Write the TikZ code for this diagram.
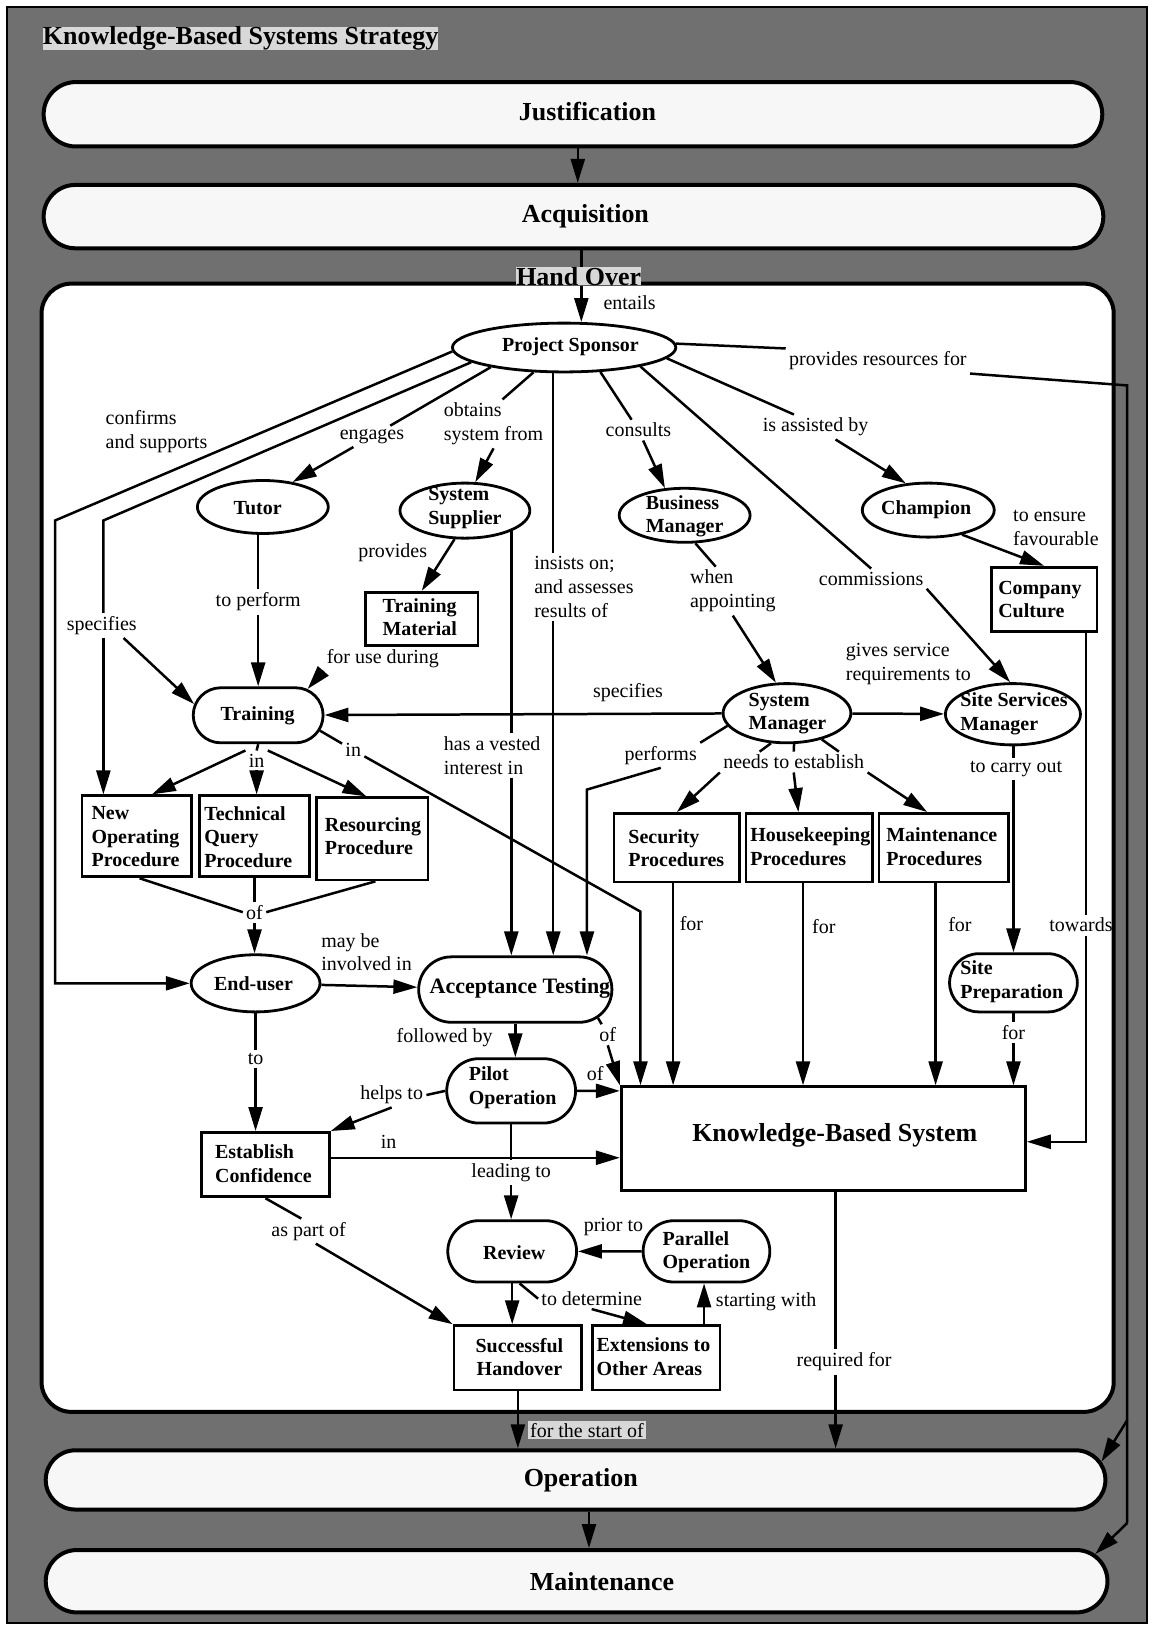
\documentclass[tikz,border=0pt]{standalone}
\usepackage{fontspec}
\setmainfont{Liberation Serif}
\usetikzlibrary{arrows.meta,shapes.geometric,shapes.misc}
\definecolor{framegray}{RGB}{112,112,112}
\definecolor{tabgray}{RGB}{216,216,216}
\definecolor{bandfill}{RGB}{247,247,247}
\begin{document}
\begin{tikzpicture}[x=0.52pt,y=-0.52pt,
  ell/.style 2 args={ellipse, draw, line width=1.4pt, fill=white, inner sep=0pt,
    minimum width=#1*0.52pt, minimum height=#2*0.52pt},
  box/.style 2 args={rectangle, draw, line width=1.4pt, fill=white, inner sep=0pt,
    minimum width=#1*0.52pt, minimum height=#2*0.52pt},
  pill/.style 2 args={rounded rectangle, draw, line width=1.4pt, fill=white, inner sep=0pt,
    minimum width=#1*0.52pt, minimum height=#2*0.52pt},
  band/.style 2 args={rounded rectangle, draw, line width=2pt, fill=bandfill, inner sep=0pt,
    minimum width=#1*0.52pt, minimum height=#2*0.52pt},
  ntext/.style={font=\fontsize{10}{11.7}\selectfont\bfseries, align=left, inner sep=0pt},
  btext/.style={font=\fontsize{13}{15}\selectfont\bfseries, inner sep=0pt},
  lbl/.style={font=\fontsize{10}{12}\selectfont, align=left, inner sep=1.5pt},
  tab/.style={fill=tabgray, inner sep=1pt},
  link/.style={line width=1.25pt},
  arr/.style={line width=1.25pt, -{Triangle[length=12pt,width=7pt]}},
]
\path[use as bounding box] (0,0) rectangle (1112,1568);

% frame
\fill[framegray] (7,7) rectangle (1104,1562);
\draw[line width=0.8pt] (7,7) rectangle (1104,1562);
\node[tab, btext, anchor=west] (title) at (41,37) {Knowledge-Based Systems Strategy};

% phases
\node[band={1019}{62}] (just) at (551.5,110) {};
\node[btext] (just-t) at (565.5,107) {Justification};
\node[band={1020}{61}] (acq) at (552,208.5) {};
\node[btext] (acq-t) at (563.5,208) {Acquisition};
\node[draw, line width=2pt, fill=white, rounded corners=15pt, inner sep=0pt,
  minimum width=1032*0.52pt, minimum height=1086*0.52pt] (ho) at (556,816) {};
\node[band={1020}{57}] (oper) at (554,1424.5) {};
\node[btext] (oper-t) at (559,1424.5) {Operation};
\node[band={1022}{60}] (maint) at (555,1522) {};
\node[btext] (maint-t) at (579.5,1522.5) {Maintenance};
\node[tab, btext] (handover) at (557,266) {Hand Over};

% concepts
\node[ell={215}{47}] (ps) at (543,334.5) {};
\node[ntext] (ps-t) at (549,334) {Project Sponsor};
\node[ell={126}{51}] (tutor) at (253,488) {};
\node[ntext] (tutor-t) at (248,489) {Tutor};
\node[ell={125}{53}] (sup) at (447.5,491.5) {};
\node[ntext] (sup-t) at (447.5,489) {System\\Supplier};
\node[box={108}{51}] (tmat) at (406,595.5) {};
\node[ntext, align=center] (tmat-t) at (404,594) {Training\\Material};
\node[ell={126}{52}] (bman) at (659,496) {};
\node[ntext] (bman-t) at (659,497) {Business\\Manager};
\node[ell={127}{52}] (champ) at (893.5,491) {};
\node[ntext] (champ-t) at (891.5,491) {Champion};
\node[box={102}{62}] (ccult) at (1005,577) {};
\node[ntext] (ccult-t) at (1001,577) {Company\\Culture};
\node[pill={125}{53}] (train) at (248.5,688.5) {};
\node[ntext] (train-t) at (248,688.5) {Training};
\node[ell={123}{57}] (sman) at (757.5,686.5) {};
\node[ntext] (sman-t) at (758,687) {System\\Manager};
\node[ell={130}{59}] (ssm) at (975,687.5) {};
\node[ntext] (ssm-t) at (976,687) {Site Services\\Manager};
\node[box={105}{78}] (nop) at (131.5,805) {};
\node[ntext] (nop-t) at (130.5,805.5) {New\\Operating\\Procedure};
\node[box={106}{78}] (tqp) at (245,805) {};
\node[ntext] (tqp-t) at (239,805.5) {Technical\\Query\\Procedure};
\node[box={107}{79}] (rproc) at (358.5,807.5) {};
\node[ntext] (rproc-t) at (359,805) {Resourcing\\Procedure};
\node[box={121}{66}] (secp) at (651.5,816) {};
\node[ntext] (secp-t) at (651,816.5) {Security\\Procedures};
\node[box={122}{66}] (hkp) at (779,816) {};
\node[ntext] (hkp-t) at (780,815) {Housekeeping\\Procedures};
\node[box={125}{66}] (mtp) at (908.5,816) {};
\node[ntext] (mtp-t) at (906.5,815) {Maintenance\\Procedures};
\node[ell={124}{55}] (euser) at (246,946.5) {};
\node[ntext] (euser-t) at (244,947) {End-user};
\node[pill={186}{63}] (acct) at (496,952.5) {};
\node[ntext, font=\fontsize{11}{13}\selectfont\bfseries] (acct-t) at (500.5,951) {Acceptance Testing};
\node[pill={123}{56}] (sprep) at (975.5,946) {};
\node[ntext] (sprep-t) at (974,945) {Site\\Preparation};
\node[pill={124}{62}] (pilot) at (492,1050) {};
\node[ntext] (pilot-t) at (493.5,1047) {Pilot\\Operation};
\node[box={389}{100}] (kbs) at (792.5,1096) {};
\node[btext] (kbs-t) at (803.5,1093) {Knowledge-Based System};
\node[box={123}{62}] (estc) at (255.5,1121) {};
\node[ntext] (estc-t) at (253.5,1120) {Establish\\Confidence};
\node[pill={124}{59}] (review) at (493,1204.5) {};
\node[ntext] (review-t) at (495,1206) {Review};
\node[pill={122}{59}] (parop) at (680,1204.5) {};
\node[ntext] (parop-t) at (680,1205.5) {Parallel\\Operation};
\node[box={123}{62}] (shand) at (498.5,1307) {};
\node[ntext, align=center] (shand-t) at (500,1306) {Successful\\Handover};
\node[box={123}{62}] (ext) at (631.5,1307) {};
\node[ntext] (ext-t) at (629,1306) {Extensions to\\Other Areas};

% relation labels
\node[lbl] (l-entails) at (606,291) {entails};
\node[lbl, anchor=west] (l-confirms) at (98.5,415.5) {confirms\\and supports};
\node[lbl] (l-spec1) at (98,602) {specifies};
\node[lbl] (l-engages) at (358,420) {engages};
\node[lbl, anchor=west] (l-obtains) at (424,408) {obtains\\system from};
\node[lbl, anchor=west] (l-insists) at (511,565) {insists on;\\and assesses\\results of};
\node[lbl, anchor=west] (l-vested) at (424,727) {has a vested\\interest in};
\node[lbl] (l-consults) at (614.5,414) {consults};
\node[lbl] (l-commissions) at (838.5,557) {commissions};
\node[lbl] (l-assisted) at (785,411) {is assisted by};
\node[lbl] (l-resources) at (845,347.5) {provides resources for};
\node[lbl, anchor=west] (l-ensure) at (972,508) {to ensure\\favourable};
\node[lbl] (l-towards) at (1040.5,890.5) {towards};
\node[lbl] (l-perform) at (248.5,579.5) {to perform};
\node[lbl] (l-provides) at (378,532) {provides};
\node[lbl] (l-foruse) at (368.5,633.5) {for use during};
\node[lbl] (l-spec2) at (604.5,667) {specifies};
\node[lbl, anchor=west] (l-when) at (661,569) {when\\appointing};
\node[lbl, anchor=west] (l-gives) at (811,639) {gives service\\requirements to};
\node[lbl] (l-performs) at (636,727) {performs};
\node[lbl] (l-needs) at (764,733.5) {needs to establish};
\node[lbl] (l-carry) at (978,740.5) {to carry out};
\node[lbl] (l-forsp) at (975.5,994) {for};
\node[lbl] (l-forsec) at (665.5,889) {for};
\node[lbl] (l-forhk) at (793,892) {for};
\node[lbl] (l-formt) at (924,890) {for};
\node[lbl] (l-inkbs) at (340,722) {in};
\node[lbl] (l-inproc) at (247,732) {in};
\node[lbl] (l-ofproc) at (245,878) {of};
\node[lbl, anchor=west] (l-maybe) at (306,916.5) {may be\\involved in};
\node[lbl] (l-to) at (246,1019) {to};
\node[lbl] (l-followed) at (428,999) {followed by};
\node[lbl] (l-ofat) at (585,996) {of};
\node[lbl] (l-ofpilot) at (573,1033) {of};
\node[lbl] (l-helps) at (377,1054) {helps to};
\node[lbl] (l-inec) at (374,1099) {in};
\node[lbl] (l-leading) at (492,1129) {leading to};
\node[lbl] (l-prior) at (590.5,1181) {prior to};
\node[lbl] (l-determine) at (569.5,1250) {to determine};
\node[lbl] (l-starting) at (737.5,1253) {starting with};
\node[lbl] (l-aspart) at (297,1185) {as part of};
\node[lbl] (l-required) at (812.5,1311) {required for};
\node[lbl, tab] (l-startof) at (565,1376.5) {for the start of};

% bend points
\coordinate (c-conf) at (53,501);
\coordinate (c-spec) at (99.5,501);
\coordinate (c-res1) at (1085,371);
\coordinate (c-res2) at (1085,1367);
\coordinate (c-res3) at (1085,1466);
\coordinate (c-tow) at (1045.5,1099);
\coordinate (c-perf) at (565,760);
\coordinate (c-in) at (616.5,877.5);

% phase sequence
\draw[arr] (just.278) -- (just.278 |- acq.north);
\draw[link] (ps.56 |- acq.south) -- (ps.56 |- handover.north);
\draw[arr] (ps.56 |- handover.south) -- (ps.56);
\draw[arr] (oper.293) -- (oper.293 |- maint.north);

% project sponsor
\draw[arr] (ps.182) -- (c-conf) |- (euser.west);
\draw[link] (ps.189) -- (c-spec) -- (c-spec |- l-spec1.north);
\draw[arr] (c-spec |- l-spec1.south) -- (c-spec |- nop.north);
\draw[arr] (l-spec1.330) -- (train.170);
\draw[link] (ps.195) -- (l-engages);
\draw[arr] (l-engages) -- (tutor.40);
\draw[link] (ps.219) -- (l-obtains.70);
\draw[arr] (l-obtains.south) -- (sup.70);
\draw[link] (ps.247) -- (ps.247 |- l-insists.north);
\draw[arr] (ps.247 |- l-insists.south) -- (ps.247 |- acct.north);
\draw[link] (ps.326) -- (l-consults);
\draw[arr] (l-consults) -- (bman.126);
\draw[link] (ps.346) -- (l-commissions.north);
\draw[arr] (l-commissions.south east) -- (ssm.95);
\draw[link] (ps.354) -- (l-assisted.150);
\draw[arr] (l-assisted) -- (champ.130);
\draw[link] (ps.2) -- (l-resources.north west);
\draw[link] (l-resources.south east) -- (c-res1) -- (c-res2) -- (c-res3);
\draw[arr] (c-res2) -- (oper.2);
\draw[arr] (c-res3) -- (maint.3);

% champion, tutor, supplier
\draw[arr] (champ.324) -- (ccult.north);
\draw[link] (ccult.south -| c-tow) -- (c-tow |- l-towards.north);
\draw[arr] (c-tow |- l-towards.south) -- (c-tow) -- (c-tow -| kbs.east);
\draw[link] (train.north |- tutor.south) -- (train.north |- l-perform.north);
\draw[arr] (train.north |- l-perform.south) -- (train.north);
\draw[arr] (sup.250) -- (tmat.north);
\draw[link] (sup.336) -- (sup.336 |- l-vested.north);
\draw[arr] (sup.336 |- l-vested.south) -- (sup.336 |- acct.north);
\draw[arr] (l-foruse.south west) -- (train.28);

% managers
\draw[link] (bman.291) -- (l-when.125);
\draw[arr] (l-when.south) -- (sman.110);
\draw[arr] (sman) -- (train);
\draw[arr] (sman) -- (ssm);
\draw[link] (sman.192) -- (l-performs.north east);
\draw[arr] (l-performs.south) -- (c-perf) -- (c-perf |- acct.north);
\draw[link] (sman.242) -- (l-needs.163);
\draw[link] (sman.283) -- (l-needs.north);
\draw[link] (sman.323) -- (l-needs.13);
\draw[arr] (l-needs.south west) -- (secp.north);
\draw[arr] (l-needs.south) -- (hkp.107);
\draw[arr] (l-needs.south east) -- (mtp.115);
\draw[link] (sprep.north |- ssm.south) -- (sprep.north |- l-carry.north);
\draw[arr] (sprep.north |- l-carry.south) -- (sprep.north);
\draw[link] (sprep.south) -- (l-forsp.north);
\draw[arr] (l-forsp.south) -- (sprep.south |- kbs.north);
\draw[arr] (secp.264) -- (secp.264 |- kbs.north);
\draw[arr] (hkp.260) -- (hkp.260 |- kbs.north);
\draw[arr] (mtp.257) -- (mtp.257 |- kbs.north);

% training
\draw[link] (train.346) -- (l-inkbs);
\draw[arr] (l-inkbs) -- (c-in) -- (c-in |- kbs.north);
\draw[link] (train.south) -- (l-inproc.north);
\draw[arr] (l-inproc.north west) -- (nop.70);
\draw[arr] (l-inproc.south) -- (l-inproc.south |- tqp.north);
\draw[arr] (l-inproc.north east) -- (rproc.98);
\draw[link] (nop.274) -- (l-ofproc.west);
\draw[link] (tqp.south) -- (tqp.south |- l-ofproc.north);
\draw[link] (rproc.274) -- (l-ofproc.east);
\draw[arr] (l-ofproc.south) -- (l-ofproc.south |- euser.north);

% end-user and testing
\draw[arr] (euser) -- (acct);
\draw[link] (euser.south) -- (euser.south |- l-to.north);
\draw[arr] (euser.south |- l-to.south) -- (euser.south |- estc.north);
\draw[arr] (acct.south) -- (acct.south |- pilot.north);
\draw[link] (acct.341) -- (l-ofat.120);
\draw[arr] (l-ofat.south) -- (kbs.north west);
\draw[arr] (pilot) -- (pilot -| kbs.west);
\draw[link] (pilot.west) -- (l-helps.east);
\draw[arr] (l-helps.south) -- (estc.north east);
\draw[arr] (estc.6) -- (estc.6 -| kbs.west);
\draw[link] (pilot.south) -- (pilot.south |- l-leading.north);
\draw[arr] (pilot.south |- l-leading.south) -- (pilot.south |- review.north);

% review and handover
\draw[arr] (parop) -- (review);
\draw[arr] (review.south) -- (review.south |- shand.north);
\draw[link] (review.283) -- (l-determine.west);
\draw[arr] (l-determine.south) -- (ext.105);
\draw[arr] (ext.35) -- (ext.35 |- parop.south);
\draw[link] (estc.south) -- (l-aspart.120);
\draw[arr] (l-aspart.300) -- (shand.north west);
\draw[arr] (shand.south) -- (shand.south |- oper.north);
\draw[link] (kbs.283) -- (kbs.283 |- l-required.north);
\draw[arr] (kbs.283 |- l-required.south) -- (kbs.283 |- oper.north);
\end{tikzpicture}
\end{document}
